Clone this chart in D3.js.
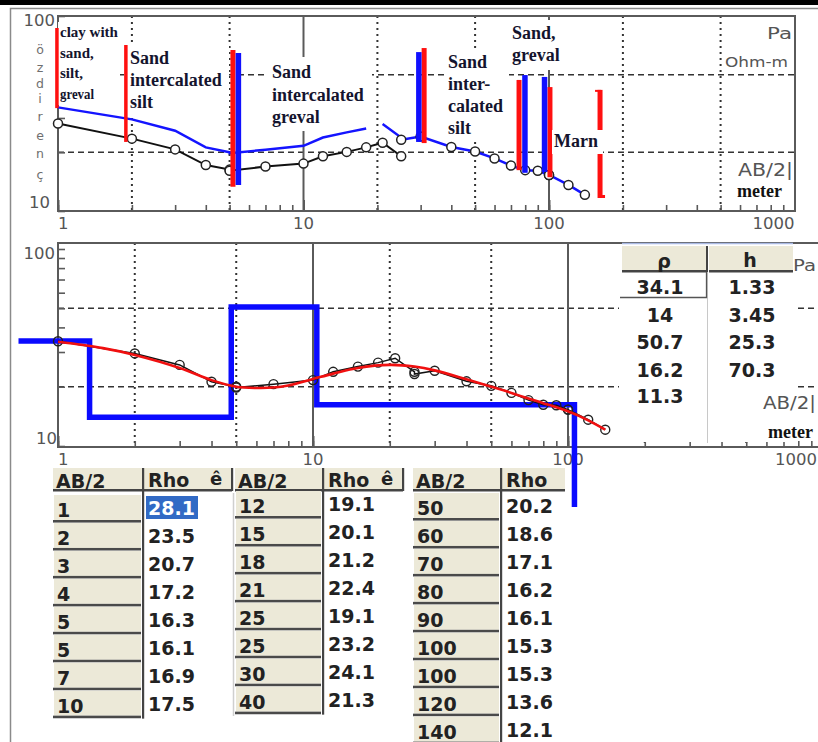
<!DOCTYPE html>
<html><head><meta charset="utf-8">
<script src="https://cdn.jsdelivr.net/npm/d3@7"></script>
<style>html,body{margin:0;padding:0;background:#fff;overflow:hidden}svg{display:block}</style>
</head><body>
<svg id="chart" width="818" height="742"></svg>
<script>
// ---------------- DATA ----------------
const ab2 = [1,2,3,4,5,5,7,10,12,15,18,21,25,25,30,40,50,60,70,80,90,100,100,120,140];
const rho = [28.1,23.5,20.7,17.2,16.3,16.1,16.9,17.5,19.1,20.1,21.2,22.4,19.1,23.2,24.1,21.3,20.2,18.6,17.1,16.2,16.1,15.3,15.3,13.6,12.1];
const seg1Count = 13;                       // first segment: AB/2 1 .. 25
const shiftedSeg1 = [34.0,29.5,25.8,21.2,20.0,19.8,20.6,21.6,23.8,25.3,26.5,27.9,23.8]; // shifted first segment
const fitAB2 = [1,1.5,2,3,4,5,6,7,8,10,12,15,20,25,30,40,50,60,70,80,100,120,140];
const fitRho = [33.8,31.4,29.0,24.9,21.6,20.0,19.7,19.8,20.3,21.9,23.3,24.9,25.8,25.3,24.2,21.8,20.0,18.6,17.4,16.5,15.0,13.5,12.1];
const modelRho = [34.1,14,50.7,16.2,11.3];
const modelH = [1.33,3.45,25.3,70.3];
const stepBounds = [1.33,4.78,10.35,106];
const stepStartAB2 = 0.70;
const stepEndRho = 4.9;
const redMarkAB2 = [0.99,1.89,5.16,31.0,75.5,100.9,161.4];
const redMarkTop = [86.8,71.0,66.9,68.5,47.0,43.2,41.8];
const redMarkBottom = [33.7,22.6,13.3,22.3,16.2,14.9,11.66];
const blueMarkAB2 = [5.43,29.5,79.8,95.9];
const blueMarkTop = [64.6,65.3,49.8,48.7];
const blueMarkBottom = [13.6,22.6,15.7,15.85];
const xTickValues = [1,10,100,1000];
const yTickValues = [10,100];
const layerTexts = [
  ["clay with","sand,","silt,","greval"],
  ["Sand","intercalated","silt"],
  ["Sand","intercalated","greval"],
  ["Sand","inter-","calated","silt"],
  ["Sand,","greval"],
  ["Marn"]
];
const yAxisLetters = ["ö","z","d","i","r","e","n","ç"];

// ---------------- SETUP ----------------
const svg = d3.select('#chart');
const SANS = "'DejaVu Sans', Verdana, sans-serif";
const SERIF = "'Liberation Serif', 'DejaVu Serif', serif";
const GRID = '#333', AX = '#5a5a5a', LBL = '#555';
const BEIGE = '#ece9d8';

const xT = d3.scaleLog().domain([1,1000]).range([58,794.5]);
const yT = d3.scaleLog().domain([10,100]).range([211,16]);
const xM = d3.scaleLog().domain([1,1000]).range([58,823]);
const yM = d3.scaleLog().domain([10,100]).range([446,249]);

// window frame
svg.append('rect').attr('x',0).attr('y',0).attr('width',818).attr('height',5).attr('fill','#000');
svg.append('path').attr('d','M10.5,742 V8.5 H818').attr('fill','none').attr('stroke','#8a8a8a').attr('stroke-width',1.5);

const minorX = []; for (let d=1; d<1000; d*=10) for (let k=1;k<10;k++) minorX.push(d*k); minorX.push(1000);
const minorY = []; for (let k=1;k<=10;k++) minorY.push(10*k);

function drawPanel(x, y, left, right, top, bottom, gridRight) {
  const g = svg.append('g');
  g.selectAll('.dv').data([2,5,20,50,200,500]).join('line')
    .attr('x1',d=>x(d)).attr('x2',d=>x(d)).attr('y1',top).attr('y2',bottom)
    .attr('stroke',GRID).attr('stroke-width',2).attr('stroke-dasharray','2,4');
  g.selectAll('.dh').data([50,20]).join('line')
    .attr('x1',left).attr('x2',gridRight).attr('y1',d=>y(d)).attr('y2',d=>y(d))
    .attr('stroke',GRID).attr('stroke-width',1.6).attr('stroke-dasharray','6,4');
  g.selectAll('.sv').data([10,100]).join('line')
    .attr('x1',d=>x(d)).attr('x2',d=>x(d)).attr('y1',top).attr('y2',bottom)
    .attr('stroke',AX).attr('stroke-width',2);
  const ax = g.append('g').attr('transform',`translate(0,${bottom})`)
    .call(d3.axisBottom(x).tickValues(minorX).tickSizeInner(-6).tickSizeOuter(0).tickFormat(''));
  ax.select('.domain').remove();
  ax.selectAll('line').attr('stroke',AX).attr('stroke-width',1.6);
  const ax2 = g.append('g').attr('transform',`translate(0,${bottom})`)
    .call(d3.axisBottom(x).tickValues(xTickValues).tickSizeInner(-11).tickSizeOuter(0).tickFormat(''));
  ax2.select('.domain').remove();
  ax2.selectAll('line').attr('stroke',AX).attr('stroke-width',2);
  const ay = g.append('g').attr('transform',`translate(${left},0)`)
    .call(d3.axisLeft(y).tickValues(minorY).tickSizeInner(-7).tickSizeOuter(0).tickFormat(''));
  ay.select('.domain').remove();
  ay.selectAll('line').attr('stroke',AX).attr('stroke-width',1.6);
  return g;
}
function fitText(sel, len) { return sel.attr('textLength',len).attr('lengthAdjust','spacingAndGlyphs'); }

// ================= TOP PANEL =================
drawPanel(xT, yT, 58, 795, 16, 211, 795);
svg.append('rect').attr('x',58).attr('y',16).attr('width',737).attr('height',195)
  .attr('fill','none').attr('stroke',AX).attr('stroke-width',2);

svg.append('text').attr('x',55).attr('y',26).attr('text-anchor','end').attr('font-family',SANS).attr('font-size',16.5).attr('fill',LBL).text(yTickValues[1]);
svg.append('text').attr('x',50).attr('y',208).attr('text-anchor','end').attr('font-family',SANS).attr('font-size',16.5).attr('fill',LBL).text(yTickValues[0]);
xTickValues.forEach((v,i)=>{
  svg.append('text').attr('x', xT(v)).attr('y',229)
    .attr('text-anchor', i===3 ? 'end' : (i===0 ? 'start' : 'middle'))
    .attr('font-family',SANS).attr('font-size',16.5).attr('fill',LBL).text(v);
});
const letterY=[50,68,84,99,117,136,154,175];
yAxisLetters.forEach((c,i)=>{
  svg.append('text').attr('x',40).attr('y',letterY[i]+4).attr('text-anchor','middle')
    .attr('font-family',SANS).attr('font-size',12.5).attr('fill','#6f6f6f').text(c);
});
fitText(svg.append('text').attr('x',767).attr('y',39).attr('font-family',SANS).attr('font-size',16).attr('fill',LBL).text('Pa'),25);
fitText(svg.append('text').attr('x',725).attr('y',67).attr('font-family',SANS).attr('font-size',14).attr('fill',LBL).text('Ohm-m'),63);
fitText(svg.append('text').attr('x',738).attr('y',176).attr('font-family',SANS).attr('font-size',17).attr('fill',LBL).text('AB/2|'),55);
svg.append('text').attr('x',737).attr('y',197).attr('font-family',SERIF).attr('font-weight','bold').attr('font-size',18).attr('fill','#111').text('meter');

const blocks = [
  {x:60, y0:37, lh:20.5, fs:15, box:[58,22,62,83]},
  {x:130, y0:64, lh:22, fs:18, box:[128,46,101,68]},
  {x:272, y0:78, lh:22.5, fs:18, box:[268,57,104,74]},
  {x:448, y0:68, lh:22, fs:18, box:[445,49,64,90]},
  {x:512, y0:39, lh:22, fs:18, box:[510,20,56,50]}
];
blocks.forEach((b,i)=>{
  svg.append('rect').attr('x',b.box[0]).attr('y',b.box[1]).attr('width',b.box[2]).attr('height',b.box[3]).attr('fill','#fff');
  layerTexts[i].forEach((t,j)=>{
    const tx = svg.append('text').attr('x',b.x).attr('y',b.y0+j*b.lh)
      .attr('font-family',SERIF).attr('font-weight','bold').attr('font-size',b.fs).attr('fill','#14142e').text(t);
    if (i===0 && t==='greval') fitText(tx,34);
  });
});

// curves
const lineT = d3.line().x(d=>xT(d[0])).y(d=>yT(d[1]));
const seg1 = ab2.slice(0,seg1Count).map((a,i)=>[a,rho[i]]);
const seg2 = ab2.slice(seg1Count).map((a,i)=>[a,rho[seg1Count+i]]);
const shifted = ab2.slice(0,seg1Count).map((a,i)=>[a,shiftedSeg1[i]]);
svg.append('path').attr('d',lineT(shifted.slice(0,11))).attr('fill','none').attr('stroke','#1414ff').attr('stroke-width',2.5);
svg.append('path').attr('d',lineT(shifted.slice(11).concat(seg2))).attr('fill','none').attr('stroke','#1414ff').attr('stroke-width',2.5);
svg.append('path').attr('d',lineT(seg1)).attr('fill','none').attr('stroke','#111').attr('stroke-width',2);
svg.selectAll('.c1').data(seg1.concat(seg2)).join('circle')
  .attr('cx',d=>xT(d[0])).attr('cy',d=>yT(d[1])).attr('r',4.5)
  .attr('fill','#fff').attr('stroke','#222').attr('stroke-width',1.5);

redMarkAB2.forEach((a,i)=>{
  svg.append('line').attr('x1',xT(a)).attr('x2',xT(a)).attr('y1',yT(redMarkTop[i])).attr('y2',yT(redMarkBottom[i]))
    .attr('stroke','#ff1010').attr('stroke-width', i<2 ? 3.5 : 5);
});
blueMarkAB2.forEach((a,i)=>{
  svg.append('line').attr('x1',xT(a)).attr('x2',xT(a)).attr('y1',yT(blueMarkTop[i])).attr('y2',yT(blueMarkBottom[i]))
    .attr('stroke','#1010ff').attr('stroke-width',5.5);
});
{
  const a = redMarkAB2[6];
  svg.append('line').attr('x1',xT(a)-5).attr('x2',xT(a)+1).attr('y1',yT(redMarkTop[6])+1).attr('y2',yT(redMarkTop[6])+1).attr('stroke','#ff1010').attr('stroke-width',2);
  svg.append('rect').attr('x',xT(a)+2).attr('y',yT(redMarkBottom[6])-3).attr('width',3).attr('height',3).attr('fill','#ff1010');
}
svg.append('rect').attr('x',552).attr('y',130).attr('width',51).attr('height',24).attr('fill','#fff');
svg.append('text').attr('x',554).attr('y',147).attr('font-family',SERIF).attr('font-weight','bold').attr('font-size',18).attr('fill','#14142e').text(layerTexts[5][0]);

// ================= MIDDLE PANEL =================
drawPanel(xM, yM, 58, 818, 243, 447, 818);
svg.append('path').attr('d','M818,243 H58 V447 H818').attr('fill','none').attr('stroke',AX).attr('stroke-width',2);

svg.append('text').attr('x',55).attr('y',259).attr('text-anchor','end').attr('font-family',SANS).attr('font-size',16.5).attr('fill',LBL).text(yTickValues[1]);
svg.append('text').attr('x',57).attr('y',444).attr('text-anchor','end').attr('font-family',SANS).attr('font-size',16.5).attr('fill',LBL).text(yTickValues[0]);
xTickValues.forEach((v,i)=>{
  svg.append('text').attr('x', i===3 ? 817 : xM(v)).attr('y',465)
    .attr('text-anchor', i===3 ? 'end' : (i===0 ? 'start' : 'middle'))
    .attr('font-family',SANS).attr('font-size',16.5).attr('fill',LBL).text(v);
});

const stepPts = [[stepStartAB2, modelRho[0]]];
stepBounds.forEach((b,i)=>{
  stepPts.push([b, modelRho[i]]);
  stepPts.push([b, i < stepBounds.length-1 ? modelRho[i+1] : stepEndRho]);
});
const lineM = d3.line().x(d=>xM(d[0])).y(d=>yM(d[1]));
svg.append('path').attr('d',lineM(stepPts)).attr('fill','none').attr('stroke','#0a0aff').attr('stroke-width',5.5).attr('stroke-linejoin','miter');

const corrected = shifted.concat(seg2);
svg.append('path').attr('d',lineM(corrected)).attr('fill','none').attr('stroke','#111').attr('stroke-width',1.5);
svg.selectAll('.c2').data(corrected).join('circle')
  .attr('cx',d=>xM(d[0])).attr('cy',d=>yM(d[1])).attr('r',4.5)
  .attr('fill','none').attr('stroke','#222').attr('stroke-width',1.4);
const fitPts = fitAB2.map((a,i)=>[a,fitRho[i]]);
svg.append('path').attr('d',d3.line().x(d=>xM(d[0])).y(d=>yM(d[1])).curve(d3.curveCatmullRom)(fitPts))
  .attr('fill','none').attr('stroke','#f01010').attr('stroke-width',2.6);

// model table overlay
svg.append('rect').attr('x',619).attr('y',244).attr('width',175).attr('height',198).attr('fill','#fff');
svg.append('line').attr('x1',622).attr('x2',793).attr('y1',243.5).attr('y2',243.5).attr('stroke','#a9b9e3').attr('stroke-width',1.5);
[[622,84],[709,84]].forEach(c=>{
  svg.append('rect').attr('x',c[0]).attr('y',246).attr('width',c[1]).attr('height',25).attr('fill',BEIGE);
  svg.append('rect').attr('x',c[0]).attr('y',270).attr('width',c[1]).attr('height',2.5).attr('fill','#444');
});
svg.append('rect').attr('x',706).attr('y',246).attr('width',2).attr('height',26).attr('fill','#444');
svg.append('line').attr('x1',707.5).attr('x2',707.5).attr('y1',272).attr('y2',443).attr('stroke','#c8c8c8').attr('stroke-width',1);
svg.append('path').attr('d','M620,297.5 H706.5 V272').attr('fill','none').attr('stroke','#555').attr('stroke-width',1.3);
svg.append('text').attr('x',664).attr('y',268).attr('text-anchor','middle').attr('font-family',SANS).attr('font-weight','bold').attr('font-size',19).attr('fill','#222').text('ρ');
svg.append('text').attr('x',750).attr('y',267).attr('text-anchor','middle').attr('font-family',SANS).attr('font-weight','bold').attr('font-size',19).attr('fill','#222').text('h');
const rowC = [287,315,342,370,396];
modelRho.forEach((v,i)=>{
  svg.append('text').attr('x',660).attr('y',rowC[i]+7).attr('text-anchor','middle').attr('font-family',SANS).attr('font-weight','bold').attr('font-size',19).attr('fill','#222').text(v);
});
modelH.forEach((v,i)=>{
  svg.append('text').attr('x',752).attr('y',rowC[i]+7).attr('text-anchor','middle').attr('font-family',SANS).attr('font-weight','bold').attr('font-size',19).attr('fill','#222').text(v.toFixed(i<2?2:1));
});
fitText(svg.append('text').attr('x',793).attr('y',271).attr('font-family',SANS).attr('font-size',16).attr('fill',LBL).text('Pa'),23);
fitText(svg.append('text').attr('x',763).attr('y',409).attr('font-family',SANS).attr('font-size',17).attr('fill',LBL).text('AB/2|'),53);
svg.append('text').attr('x',768).attr('y',438).attr('font-family',SERIF).attr('font-weight','bold').attr('font-size',18).attr('fill','#111').text('meter');

// ================= DATA TABLES =================
function dataTable(xA, xR, xEnd, headTop, firstC, idx, withE, hiIdx) {
  const g = svg.append('g');
  const n = idx.length, pitch = 27.95;
  g.append('rect').attr('x',xA).attr('y',headTop).attr('width',xR-xA-1).attr('height',22).attr('fill',BEIGE);
  g.append('rect').attr('x',xR+1).attr('y',headTop).attr('width',xEnd-xR-1).attr('height',22).attr('fill',BEIGE);
  g.append('rect').attr('x',xA).attr('y',headTop+21).attr('width',xEnd-xA).attr('height',2.5).attr('fill','#444');
  const lastBottom = firstC + (n-1)*pitch + 13;
  g.append('rect').attr('x',xR-1).attr('y',headTop).attr('width',2.2).attr('height',lastBottom-headTop).attr('fill','#444');
  if (withE) g.append('rect').attr('x',xEnd-1).attr('y',headTop).attr('width',2.2).attr('height',23).attr('fill','#444');
  g.append('text').attr('x',xA+3).attr('y',headTop+20).attr('font-family',SANS).attr('font-weight','bold').attr('font-size',19).attr('fill','#222').text('AB/2');
  g.append('text').attr('x',xR+5).attr('y',headTop+19).attr('font-family',SANS).attr('font-weight','bold').attr('font-size',19).attr('fill','#222').text('Rho');
  if (withE) g.append('text').attr('x',xEnd-22).attr('y',headTop+17).attr('font-family',SANS).attr('font-weight','bold').attr('font-size',18).attr('fill','#222').text('ê');
  idx.forEach((k,i)=>{
    const c = firstC + i*pitch;
    g.append('rect').attr('x',xA+1).attr('y',c-15).attr('width',xR-xA-3).attr('height',25).attr('fill',BEIGE);
    g.append('rect').attr('x',xA).attr('y',c+10).attr('width',xR-xA-2).attr('height',2.6).attr('fill','#4a4a4a');
    g.append('text').attr('x',xA+4).attr('y',c+7).attr('font-family',SANS).attr('font-weight','bold').attr('font-size',19).attr('fill','#222').text(ab2[k]);
    if (k===hiIdx) g.append('rect').attr('x',xR+3).attr('y',c-14).attr('width',52).attr('height',23).attr('fill','#316ac5');
    g.append('text').attr('x',xR+5).attr('y',c+5).attr('font-family',SANS).attr('font-weight','bold').attr('font-size',19)
      .attr('fill', k===hiIdx ? '#fff' : '#222').text(rho[k].toFixed(1));
  });
  return g;
}
dataTable(53, 143, 232, 468, 510, d3.range(0,8), true, 0);
svg.append('line').attr('x1',233.5).attr('x2',233.5).attr('y1',493).attr('y2',716).attr('stroke','#cfcfcf').attr('stroke-width',1.5);
dataTable(235, 323, 403, 468, 506, d3.range(8,16), true, -1);
dataTable(413, 501, 565, 468, 508, d3.range(16,25), false, -1);
</script>
</body></html>
